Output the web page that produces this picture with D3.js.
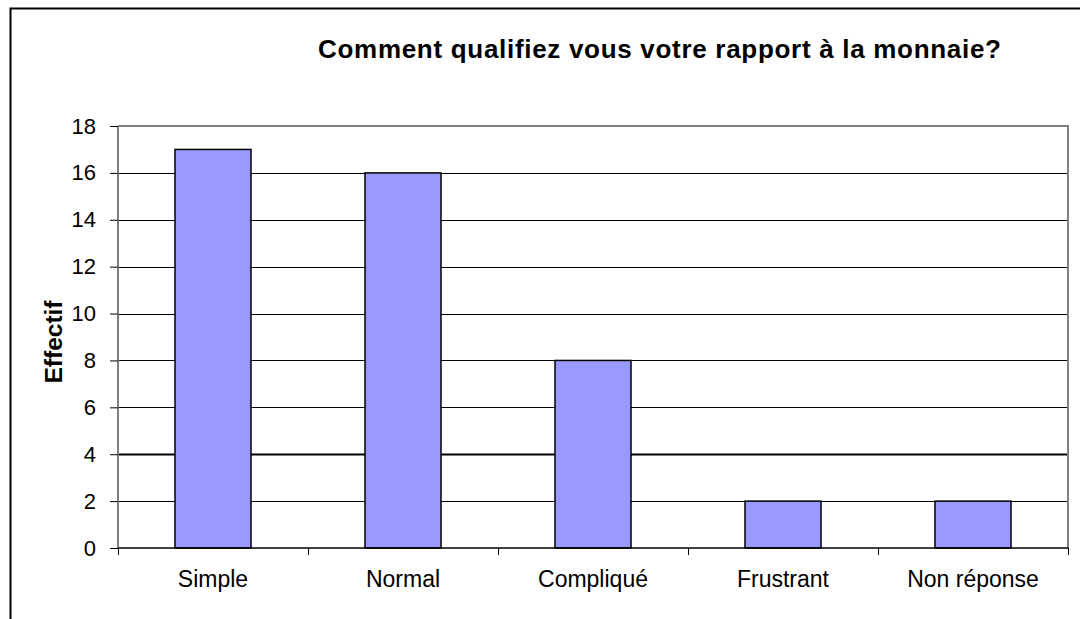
<!DOCTYPE html>
<html>
<head>
<meta charset="utf-8">
<script src="https://cdn.jsdelivr.net/npm/d3@7"></script>
<style>
  body { margin: 0; background: #fff; }
  svg { display: block; font-family: Arial, "Liberation Sans", sans-serif; }
</style>
</head>
<body>
<svg id="chart"></svg>
<script>
// Chart data
var categories = ["Simple", "Normal", "Compliqué", "Frustrant", "Non réponse"];
var values = [17, 16, 8, 2, 2];
var yTicks = [0, 2, 4, 6, 8, 10, 12, 14, 16, 18];
var title = "Comment qualifiez vous votre rapport à la monnaie?";
var yLabel = "Effectif";

// Size params
var W = 1080, H = 619;
var margin = {top: 126, right: 12, bottom: 71, left: 118};
var width = W - margin.left - margin.right;
var height = H - margin.top - margin.bottom;

var svg = d3.select("#chart")
    .attr("width", W)
    .attr("height", H);

// Outer frame (only left and top edges visible)
svg.append("path")
    .attr("d", "M10.5," + H + "V8.5H" + W)
    .attr("fill", "none")
    .attr("stroke", "#000")
    .attr("stroke-width", 2);

// Title
svg.append("text")
    .attr("x", 318)
    .attr("y", 58)
    .attr("font-size", 26)
    .attr("font-weight", "bold")
    .attr("letter-spacing", 0.7)
    .text(title);

var g = svg.append("g")
    .attr("transform", "translate(" + margin.left + "," + margin.top + ")");

// Scales
var x = d3.scaleBand().domain(categories).range([0, width]).paddingInner(0).paddingOuter(0);
var y = d3.scaleLinear().domain([0, 18]).range([height, 0]);

// Gridlines
g.selectAll(".grid")
    .data(yTicks.filter(function(d) { return d > 0 && d < 18; }))
  .enter().append("line")
    .attr("class", "grid")
    .attr("x1", 0)
    .attr("x2", width)
    .attr("y1", function(d) { return Math.round(y(d)) + 0.5; })
    .attr("y2", function(d) { return Math.round(y(d)) + 0.5; })
    .attr("stroke", "#000")
    .attr("stroke-width", function(d) { return d == 4 ? 2 : 1; });

// Plot border (top + right, grey)
g.append("path")
    .attr("d", "M0," + 0 + "H" + width + "V" + height)
    .attr("fill", "none")
    .attr("stroke", "#808080")
    .attr("stroke-width", 2);

// Bars
var barW = x.bandwidth() / 2.5;
g.selectAll(".bar")
    .data(values)
  .enter().append("rect")
    .attr("class", "bar")
    .attr("x", function(d, i) { return x(categories[i]) + (x.bandwidth() - barW) / 2; })
    .attr("y", function(d) { return y(d); })
    .attr("width", barW)
    .attr("height", function(d) { return height - y(d); })
    .attr("fill", "#9999FF")
    .attr("stroke", "#000")
    .attr("stroke-width", 1.5);

// Y axis
var yAxis = g.append("g")
    .call(d3.axisLeft(y).tickValues(yTicks).tickSize(8).tickPadding(14));
yAxis.select(".domain").attr("stroke", "#808080").attr("stroke-width", 2)
    .attr("d", "M0,0V" + height);
yAxis.selectAll(".tick line").attr("stroke", "#000");
yAxis.selectAll("text")
    .attr("font-size", 22)
    .attr("font-family", "Arial, 'Liberation Sans', sans-serif")
    .attr("fill", "#000");

// X axis with ticks at category boundaries
var xAxis = g.append("g")
    .attr("transform", "translate(0," + height + ")");
xAxis.append("line")
    .attr("x1", 0).attr("x2", width)
    .attr("stroke", "#000").attr("stroke-width", 1.5);
xAxis.selectAll(".xtick")
    .data(d3.range(categories.length + 1))
  .enter().append("line")
    .attr("class", "xtick")
    .attr("x1", function(i) { return Math.round(i * x.step()) + 0.5; })
    .attr("x2", function(i) { return Math.round(i * x.step()) + 0.5; })
    .attr("y1", 0).attr("y2", 7)
    .attr("stroke", "#000");
xAxis.selectAll(".xlabel")
    .data(categories)
  .enter().append("text")
    .attr("class", "xlabel")
    .attr("x", function(d) { return x(d) + x.bandwidth() / 2; })
    .attr("y", 39)
    .attr("text-anchor", "middle")
    .attr("font-size", 23)
    .text(function(d) { return d; });

// Y label
svg.append("text")
    .attr("transform", "translate(62,342)rotate(-90)")
    .attr("text-anchor", "middle")
    .attr("font-size", 24.5)
    .attr("font-weight", "bold")
    .text(yLabel);
</script>
</body>
</html>
